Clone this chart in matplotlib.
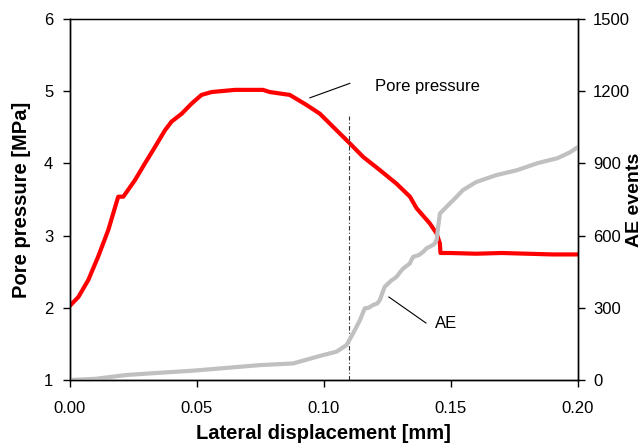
import matplotlib
matplotlib.use('Agg')
import matplotlib.pyplot as plt

plt.rcParams['font.family'] = ['Liberation Sans', 'DejaVu Sans']

# pore pressure curve (MPa) vs lateral displacement (mm)
pp_x = [0, 0.0033, 0.0072, 0.0111, 0.0151, 0.019, 0.021, 0.0256, 0.0295, 0.0335,
        0.0374, 0.040, 0.044, 0.0479, 0.0518, 0.0558, 0.065, 0.076, 0.0787, 0.0866,
        0.0932, 0.0984, 0.105, 0.1096, 0.1155, 0.122, 0.1286, 0.1339, 0.1365, 0.1417,
        0.1444, 0.1457, 0.1459, 0.1496, 0.16, 0.17, 0.18, 0.19, 0.2]
pp_y = [2.03, 2.15, 2.385, 2.71, 3.08, 3.54, 3.54, 3.77, 4.0, 4.23,
        4.46, 4.58, 4.69, 4.83, 4.95, 4.99, 5.02, 5.02, 4.99, 4.95,
        4.81, 4.69, 4.46, 4.30, 4.09, 3.91, 3.72, 3.54, 3.38, 3.17,
        3.03, 2.89, 2.76, 2.76, 2.75, 2.76, 2.75, 2.74, 2.74]

# cumulative AE events
ae_x = [0, 0.01, 0.0223, 0.035, 0.0486, 0.0748, 0.0879, 0.0984, 0.105, 0.1089,
        0.1115, 0.1142, 0.1161, 0.1175, 0.1194, 0.121, 0.122, 0.1235, 0.124, 0.1267,
        0.1275, 0.1286, 0.1305, 0.1313, 0.1339, 0.1345, 0.1352, 0.1375, 0.1391, 0.1405,
        0.1417, 0.1435, 0.1444, 0.145, 0.1457, 0.1483, 0.1522, 0.1547, 0.160, 0.168,
        0.176, 0.184, 0.192, 0.197, 0.2]
ae_y = [0, 5, 21, 30, 39, 62, 69, 100, 118, 145,
        194, 249, 298, 300, 312, 318, 332, 375, 388, 415,
        420, 429, 455, 464, 485, 500, 512, 520, 533, 548,
        554, 565, 582, 637, 692, 720, 761, 789, 823, 852,
        872, 901, 922, 947, 968]

x_ticks = [0.0, 0.05, 0.10, 0.15, 0.20]
left_ticks = [1, 2, 3, 4, 5, 6]
right_ticks = [0, 300, 600, 900, 1200, 1500]

fig = plt.figure(figsize=(6.42, 4.45), dpi=100)
ax = fig.add_axes([0.109, 0.146, 0.791, 0.811])
ax2 = ax.twinx()

ax.plot(pp_x, pp_y, color='#ff0000', lw=3, solid_joinstyle='round')
ax2.plot(ae_x, ae_y, color='#c0c0c0', lw=3, solid_joinstyle='round')

ax.plot([0.11, 0.11], [1, 4.66], color='#333333', lw=0.8, ls=(0, (4, 2, 1, 2)))

ax.set_xlim(0, 0.2)
ax.set_ylim(1, 6)
ax2.set_ylim(0, 1500)
ax.set_xticks(x_ticks)
ax.set_xticklabels(['%.2f' % v for v in x_ticks])
ax.set_yticks(left_ticks)
ax2.set_yticks(right_ticks)

for a in (ax, ax2):
    a.tick_params(direction='out', length=5, width=1, labelsize=12)
    for s in a.spines.values():
        s.set_linewidth(1)
ax.tick_params(axis='x', pad=10)
ax.tick_params(axis='y', pad=7)
ax2.tick_params(axis='y', pad=6)
ax.spines['top'].set_linewidth(0.8)

ax.set_xlabel('Lateral displacement [mm]', fontsize=14.5, fontweight='bold')
ax.xaxis.set_label_coords(0.5, -0.122)
ax.set_ylabel('Pore pressure [MPa]', fontsize=14.5, fontweight='bold')
ax.yaxis.set_label_coords(-0.077, 0.5)
ax2.set_ylabel('AE events', fontsize=14, fontweight='bold', rotation=90)
ax2.yaxis.set_label_coords(1.094, 0.5)

# annotations
ax.plot([0.0945, 0.1102], [4.91, 5.11], color='black', lw=0.8)
ax.text(0.120, 5.07, 'Pore pressure', fontsize=12, va='center', ha='left')
ax.plot([0.1256, 0.1402], [2.15, 1.79], color='black', lw=0.8)
ax.text(0.1437, 1.79, 'AE', fontsize=12, va='center', ha='left')

fig.savefig('out.png', dpi=100)
